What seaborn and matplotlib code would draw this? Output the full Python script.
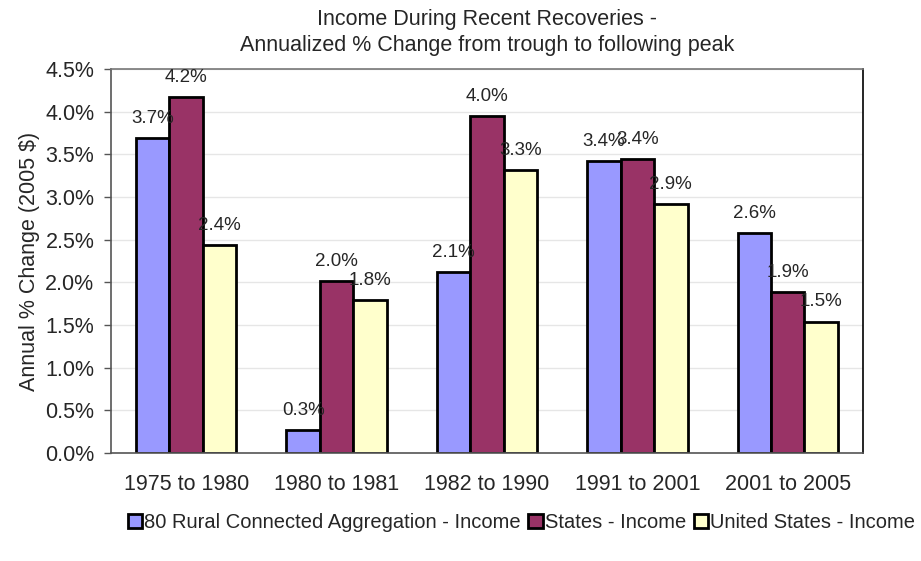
import pandas as pd
import matplotlib.pyplot as plt
import matplotlib.ticker as mticker
import seaborn as sns

sns.set_style('white')
plt.rcParams['font.family'] = ['Liberation Sans', 'DejaVu Sans']

# --- Data ---
periods = ['1975 to 1980', '1980 to 1981', '1982 to 1990', '1991 to 2001', '2001 to 2005']
series = ['80 Rural Connected Aggregation - Income', 'States - Income', 'United States - Income']
rural = [3.69, 0.27, 2.12, 3.42, 2.58]
states = [4.17, 2.02, 3.95, 3.44, 1.89]
us = [2.44, 1.79, 3.32, 2.92, 1.54]
colors = ['#9999FF', '#993366', '#FFFFCC']

df = pd.DataFrame({
    'period': periods * 3,
    'series': [series[0]] * 5 + [series[1]] * 5 + [series[2]] * 5,
    'value': rural + states + us,
})

fig = plt.figure(figsize=(9.21, 5.61), dpi=100)
ax = fig.add_axes([0.1205, 0.1925, 0.8165, 0.6845])

sns.barplot(data=df, x='period', y='value', hue='series', order=periods,
            hue_order=series, palette=colors, saturation=1, width=0.667, gap=0,
            edgecolor='black', linewidth=2, ax=ax, legend=True)

for cont in ax.containers:
    ax.bar_label(cont, fmt='{:.1f}%', padding=8, fontsize=13.5)

ax.set_ylim(0, 4.5)
ax.set_xlim(-0.5, 4.5)
ax.yaxis.set_major_locator(mticker.MultipleLocator(0.5))
ax.yaxis.set_major_formatter(mticker.FuncFormatter(lambda v, p: f'{v:.1f}%'))
ax.yaxis.grid(True, color='#e6e6e6', linewidth=1)
ax.set_axisbelow(True)

ax.set_xticks(range(len(periods)))
ax.set_xticklabels(periods)
ax.set_xticks([0.5, 1.5, 2.5, 3.5], minor=True)
ax.tick_params(axis='x', which='major', length=0, labelsize=15.5, pad=15)
ax.tick_params(axis='x', which='minor', length=5, width=1, color='#555555', direction='out')
ax.tick_params(axis='y', length=5, width=1, color='#555555', direction='out',
               labelsize=15.5, left=True, pad=7)

for side in ['left', 'bottom']:
    ax.spines[side].set_color('#555555')
    ax.spines[side].set_linewidth(1.2)
ax.spines['top'].set_color('#777777')
ax.spines['top'].set_linewidth(1.2)
ax.spines['right'].set_color('black')
ax.spines['right'].set_linewidth(1.2)

ax.set_xlabel('')
ax.set_ylabel('Annual % Change (2005 $)', fontsize=15.5, labelpad=4)
ax.set_title('Income During Recent Recoveries -\nAnnualized % Change from trough to following peak',
             fontsize=15.5, pad=13, linespacing=1.3)

handles, labels = ax.get_legend_handles_labels()
ax.get_legend().remove()
fig.legend(handles, labels, loc='center', bbox_to_anchor=(0.566, 0.068), ncol=3,
           frameon=False, fontsize=14.5, handlelength=0.7, handleheight=0.7,
           handletextpad=0.1, columnspacing=0.4, borderaxespad=0)

fig.savefig('out.png', dpi=100)
